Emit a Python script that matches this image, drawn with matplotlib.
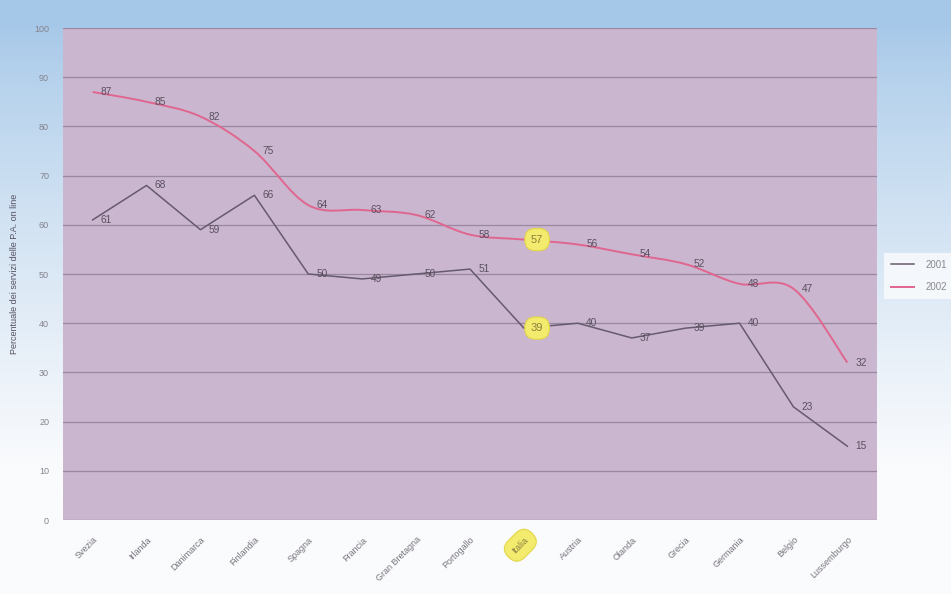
import matplotlib
matplotlib.use('Agg')
import numpy as np
import matplotlib.pyplot as plt
from matplotlib.path import Path
from matplotlib.patches import PathPatch

plt.rcParams['font.family'] = ['Liberation Sans', 'DejaVu Sans']

# Data
paesi = ['Svezia', 'Irlanda', 'Danimarca', 'Finlandia', 'Spagna', 'Francia',
         'Gran Bretagna', 'Portogallo', 'Italia', 'Austria', 'Olanda', 'Grecia',
         'Germania', 'Belgio', 'Lussemburgo']
val_2001 = [61, 68, 59, 66, 50, 49, 50, 51, 39, 40, 37, 39, 40, 23, 15]
val_2002 = [87, 85, 82, 75, 64, 63, 62, 58, 57, 56, 54, 52, 48, 47, 32]
y_ticks = list(range(0, 101, 10))
evidenza = 'Italia'

col_2001 = '#675a6e'
col_2002 = '#e0668f'
plot_bg = '#cab6ce'
grid_col = '#9a87a0'
txt_col = '#5a5060'
yellow = '#f3eb6e'


def smooth_path(xs, ys):
    # Bezier curve through the points (Excel style smoothed line)
    p = np.column_stack([xs, ys]).astype(float)
    n = len(p)
    verts = [p[0]]
    codes = [Path.MOVETO]
    for i in range(n - 1):
        p0 = p[i - 1] if i > 0 else p[i]
        p3 = p[i + 2] if i + 2 < n else p[i + 1]
        c1 = p[i] + (p[i + 1] - p0) / 6.0
        c2 = p[i + 1] - (p3 - p[i]) / 6.0
        verts += [c1, c2, p[i + 1]]
        codes += [Path.CURVE4] * 3
    return Path(verts, codes)


fig = plt.figure(figsize=(9.51, 5.94), dpi=100)

# photo-like background: light blue on top fading to white
bg = fig.add_axes([0, 0, 1, 1], zorder=-10)
h, w = 200, 320
t = np.linspace(0, 1, h)[:, None] * np.ones((1, w))
s = np.clip((t - 0.04) / 0.75, 0, 1) ** 0.8
blue = np.array([166, 200, 232]) / 255.0
white = np.array([250, 251, 253]) / 255.0
img = blue[None, None, :] * (1 - s[..., None]) + white[None, None, :] * s[..., None]
bg.imshow(img, aspect='auto', extent=[0, 1, 0, 1])
bg.set_axis_off()

ax = fig.add_axes([63 / 951, 1 - 520 / 594, (877 - 63) / 951, (520 - 28) / 594])
ax.set_facecolor(plot_bg)
x = np.arange(len(paesi))
ax.set_xlim(-0.55, len(paesi) - 0.45)
ax.set_ylim(0, 100)

ax.set_yticks(y_ticks)
ax.set_yticklabels([str(v) for v in y_ticks], fontsize=6.5, color='#85838c')
ax.yaxis.grid(True, color=grid_col, linewidth=0.9)
ax.set_axisbelow(True)
ax.tick_params(axis='y', length=0, pad=10)
ax.tick_params(axis='x', length=0, pad=11)
for sp in ax.spines.values():
    sp.set_visible(False)

ax.set_xticks(x)
ax.set_xticklabels(paesi, rotation=45, ha='right', va='top',
                   rotation_mode='anchor', fontsize=6.5, color='#76747c')
for lab in ax.get_xticklabels():
    if lab.get_text() == evidenza:
        lab.set_bbox(dict(boxstyle='round,pad=0.8,rounding_size=1.3',
                          fc=yellow, ec='#e3d548', lw=0.8))
        lab.set_color('#8a8040')

# series lines
line01, = ax.plot(x, val_2001, color=col_2001, lw=1.1, label='2001')
ax.add_patch(PathPatch(smooth_path(x, val_2002), fc='none', ec=col_2002, lw=1.4))
line02, = ax.plot([], [], color=col_2002, lw=1.4, label='2002')

# data labels
for serie in (val_2001, val_2002):
    for i, v in enumerate(serie):
        if paesi[i] == evidenza:
            ax.annotate(str(v), (i, v), xytext=(9.5, 0), textcoords='offset points',
                        ha='center', va='center', fontsize=8, color='#8a8040',
                        bbox=dict(boxstyle='round,pad=0.55,rounding_size=0.95',
                                  fc=yellow, ec='#e3d548', lw=0.8))
        else:
            ax.annotate(str(v), (i, v), xytext=(6, 0), textcoords='offset points',
                        ha='left', va='center', fontsize=7.3, color=txt_col)

ax.set_ylabel('Percentuale dei servizi delle P.A. on line', fontsize=6.5,
              color='#555060', labelpad=11)

leg = fig.legend(handles=[line01, line02], loc='upper left',
                 bbox_to_anchor=(879 / 951, 1 - 248 / 594), fontsize=7,
                 frameon=True, fancybox=False, handlelength=2.4,
                 borderpad=0.7, labelspacing=1.3, handletextpad=1.2)
leg.get_frame().set_facecolor('#fbfcfd')
leg.get_frame().set_edgecolor('none')
for tx in leg.get_texts():
    tx.set_color('#8a8890')

fig.savefig('out.png', dpi=100)
